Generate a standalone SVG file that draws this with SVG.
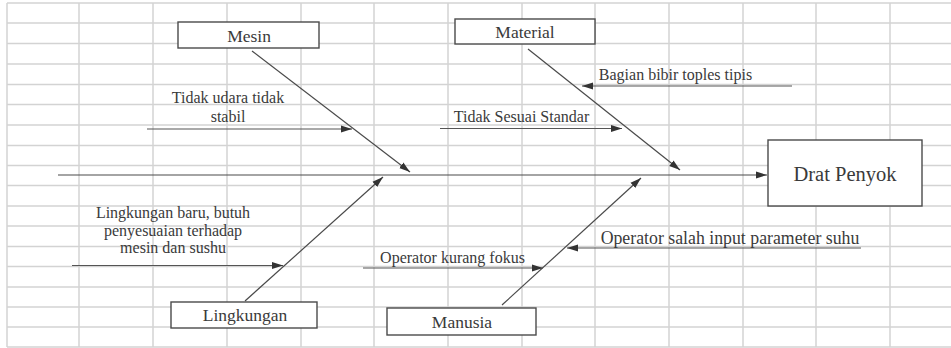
<svg xmlns="http://www.w3.org/2000/svg" width="951" height="348" viewBox="0 0 951 348">
<style>
.grid{stroke:#d3d3d3;stroke-width:1.5;fill:none}
.box{fill:#fff;stroke:#4a4a4a;stroke-width:1.4}
.lbl{font-family:'Liberation Serif',Tinos,'Times New Roman','DejaVu Serif',serif;fill:#3a3a3a;text-anchor:middle}
.big{font-size:17.5px}
.small{font-size:16px}
.bone{stroke:#4a4a4a;stroke-width:1.2;fill:none}
.sub{stroke:#555;stroke-width:1.1;fill:none}
</style>
<defs>
<marker id="ah" markerUnits="userSpaceOnUse" markerWidth="12" markerHeight="8" refX="11" refY="4" orient="auto">
<path d="M0,0.5 L11,4 L0,7.5 z" fill="#333"/>
</marker>
</defs>
<rect x="0" y="0" width="951" height="348" fill="#fff"/>
<g id="grid">
<path class="grid" d="M7,3H951M7,23H951M7,43.5H951M7,64H951M7,84.5H951M7,104.5H951M7,125H951M7,145.5H951M7,165.5H951M7,185.5H951M7,206H951M7,226H951M7,246.5H951M7,266.5H951M7,287H951M7,307H951M7,327H951M7,347H951"/>
<path class="grid" d="M7,3V347M79,3V347M153,3V347M227,3V347M301,3V347M374,3V347M448,3V347M522,3V347M595,3V347M669,3V347M743,3V347M816,3V347M890,3V347"/>
</g>
<g id="connectors">
<line class="bone" x1="58" y1="175" x2="767" y2="175" marker-end="url(#ah)"/>
<line class="bone" x1="252" y1="51" x2="410" y2="172" marker-end="url(#ah)"/>
<line class="bone" x1="528" y1="49" x2="680" y2="170" marker-end="url(#ah)"/>
<line class="bone" x1="245" y1="301" x2="383" y2="177" marker-end="url(#ah)"/>
<line class="bone" x1="502" y1="305" x2="641" y2="178" marker-end="url(#ah)"/>
<line class="sub" x1="147" y1="129" x2="352" y2="129" marker-end="url(#ah)"/>
<line class="sub" x1="440" y1="128.5" x2="622" y2="128.5" marker-end="url(#ah)"/>
<line class="sub" x1="792" y1="86" x2="582" y2="86" marker-end="url(#ah)"/>
<line class="sub" x1="72" y1="265.5" x2="283" y2="265.5" marker-end="url(#ah)"/>
<line class="sub" x1="363" y1="268" x2="543" y2="268" marker-end="url(#ah)"/>
<line class="sub" x1="861" y1="248" x2="567" y2="248" marker-end="url(#ah)"/>
</g>
<g id="effect">
<rect class="box" x="768" y="140" width="154" height="66" stroke-width="1.6"/>
<text class="lbl" x="845" y="181" font-size="20.5">Drat Penyok</text>
</g>
<g id="mesin">
<rect class="box" x="178" y="22" width="141" height="26"/>
<text class="lbl big" x="249" y="42">Mesin</text>
</g>
<g id="material">
<rect class="box" x="455" y="19" width="140" height="25"/>
<text class="lbl big" x="525" y="38">Material</text>
</g>
<g id="lingkungan">
<rect class="box" x="171" y="302" width="146" height="26"/>
<text class="lbl big" x="245" y="321">Lingkungan</text>
</g>
<g id="manusia">
<rect class="box" x="387" y="308" width="149" height="27"/>
<text class="lbl big" x="462" y="328">Manusia</text>
</g>
<g id="cause-mesin">
<text class="lbl small" x="228" y="103">Tidak udara tidak</text>
<text class="lbl small" x="228" y="122">stabil</text>
</g>
<g id="cause-material-1">
<text class="lbl small" x="521.5" y="122">Tidak Sesuai Standar</text>
</g>
<g id="cause-material-2">
<text class="lbl small" x="675.5" y="80">Bagian bibir toples tipis</text>
</g>
<g id="cause-lingkungan">
<text class="lbl small" x="173" y="218">Lingkungan baru, butuh</text>
<text class="lbl small" x="173" y="235.5">penyesuaian terhadap</text>
<text class="lbl small" x="173" y="253">mesin dan sushu</text>
</g>
<g id="cause-manusia-1">
<text class="lbl small" x="452.5" y="263">Operator kurang fokus</text>
</g>
<g id="cause-manusia-2">
<text class="lbl" x="730" y="243.5" font-size="17.8" fill="#222">Operator salah input parameter suhu</text>
</g>
</svg>
